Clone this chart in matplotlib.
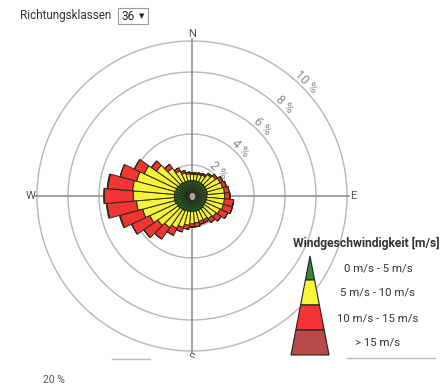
import numpy as np
import matplotlib
matplotlib.use("Agg")
import matplotlib.pyplot as plt
from matplotlib.patches import Polygon, Rectangle

plt.rcParams["font.family"] = ["Roboto", "DejaVu Sans"]

# Häufigkeiten in % je Richtungsklasse (36 Klassen à 10°, ab Nord im Uhrzeigersinn)
richtungen = np.arange(0, 360, 10)
v_0_5 = [1.00, 1.00, 1.00, 1.00, 1.00, 1.00, 1.00, 1.00, 1.00, 0.95, 0.95, 0.95,
         0.95, 0.95, 1.00, 1.00, 1.00, 1.00, 1.00, 1.00, 1.00, 1.05, 1.05, 1.10,
         1.10, 1.15, 1.15, 1.15, 1.15, 1.10, 1.10, 1.05, 1.05, 1.00, 1.00, 1.00]
v_5_10 = [0.40, 0.40, 0.45, 0.50, 0.70, 0.85, 1.00, 1.05, 1.10, 1.15, 1.15, 1.15,
          1.05, 0.95, 0.80, 0.70, 0.70, 0.75, 0.80, 0.90, 1.10, 1.25, 1.45, 1.60,
          1.90, 2.15, 2.45, 2.65, 2.70, 2.60, 2.30, 1.75, 1.15, 0.80, 0.55, 0.45]
v_10_15 = [0.10, 0.10, 0.10, 0.10, 0.10, 0.15, 0.20, 0.25, 0.30, 0.35, 0.60, 0.60,
           0.55, 0.40, 0.30, 0.20, 0.20, 0.25, 0.20, 0.25, 0.30, 0.50, 0.90, 1.10,
           1.30, 1.50, 1.90, 1.85, 1.60, 1.10, 0.70, 0.40, 0.30, 0.20, 0.15, 0.10]
v_15 = [0.00, 0.00, 0.00, 0.00, 0.00, 0.00, 0.00, 0.00, 0.00, 0.00, 0.00, 0.00,
        0.00, 0.00, 0.00, 0.00, 0.00, 0.00, 0.00, 0.00, 0.00, 0.00, 0.00, 0.00,
        0.00, 0.05, 0.05, 0.05, 0.05, 0.00, 0.00, 0.00, 0.00, 0.00, 0.00, 0.00]

klassen = [v_0_5, v_5_10, v_10_15, v_15]
farben = ["#2f8a34", "#f7f53a", "#f53535", "#b84a4a"]
labels = ["0 m/s - 5 m/s", "5 m/s - 10 m/s", "10 m/s - 15 m/s", "> 15 m/s"]
ringe = [2, 4, 6, 8, 10]

W, H = 448, 388
fig = plt.figure(figsize=(W / 100, H / 100), dpi=100)

# Polarachse: Mittelpunkt (192, 196) px, 15.5 px pro %
cx, cy, rmax = 192, 196, 10.3
rpx = 15.5 * rmax
ax = fig.add_axes([(cx - rpx) / W, (H - cy - rpx) / H, 2 * rpx / W, 2 * rpx / H],
                  projection="polar")
ax.set_theta_zero_location("N")
ax.set_theta_direction(-1)
ax.set_ylim(0, rmax)
ax.axis("off")

kreis = np.linspace(0, 2 * np.pi, 400)
for r in ringe:
    ax.plot(kreis, np.full_like(kreis, r), color="#b5b5b5", lw=1.0, zorder=1)
    ax.text(np.deg2rad(45), r + 0.38, f"{r} %", color="#8a8a8a", fontsize=9,
            rotation=-45, ha="center", va="center", zorder=1)

for winkel in [0, 90, 180, 270]:
    ax.plot([np.deg2rad(winkel)] * 2, [0, 10.12], color="#888888", lw=1.1, zorder=1)
for winkel, txt in zip([0, 90, 180, 270], ["N", "E", "S", "W"]):
    ax.text(np.deg2rad(winkel), 10.42, txt, color="#555555", fontsize=8,
            ha="center", va="center", zorder=1)

theta = np.deg2rad(richtungen)
breite = np.deg2rad(10)
unten = np.zeros(len(richtungen))
for i, (werte, farbe) in enumerate(zip(klassen, farben)):
    werte = np.array(werte)
    # innerste Klasse etwas dunkler, die Kanten laufen in der Mitte zusammen
    fuell = "#246b2a" if i == 0 else farbe
    ax.bar(theta, werte, width=breite, bottom=unten, color=fuell,
           edgecolor="#2b2b1a", linewidth=0.7, zorder=3)
    unten = unten + werte
ax.plot(0, 0, "s", color="#a0a0a0", ms=2.5, zorder=5)

# Overlay in Pixelkoordinaten für Bedienelemente und Legende
ov = fig.add_axes([0, 0, 1, 1])
ov.set_xlim(0, W)
ov.set_ylim(H, 0)
ov.axis("off")
ov.patch.set_alpha(0)

ov.text(20, 16, "Richtungsklassen", fontsize=8.5, color="#333333", va="center")
ov.add_patch(Rectangle((118, 8), 30, 16, facecolor="white", edgecolor="#9a9a9a", lw=0.8))
ov.text(122, 16, "36", fontsize=8.5, color="#222222", va="center")
ov.text(139, 16, "▼", fontsize=5, color="#222222", va="center",
        family=["DejaVu Sans"])

# Legende: Kegel mit vier Stufen
ov.text(366, 243, "Windgeschwindigkeit [m/s]", fontsize=8.7, fontweight="bold",
        color="#333333", ha="center", va="center")
spitze_x, spitze_y, fuss_y = 310, 256, 355
halb = 19
stufen = [256, 280, 305, 330, 355]
for i, farbe in enumerate(farben):
    y0, y1 = stufen[i], stufen[i + 1]
    w0 = halb * (y0 - spitze_y) / (fuss_y - spitze_y)
    w1 = halb * (y1 - spitze_y) / (fuss_y - spitze_y)
    ov.add_patch(Polygon([(spitze_x - w0, y0), (spitze_x + w0, y0),
                          (spitze_x + w1, y1), (spitze_x - w1, y1)],
                         closed=True, facecolor=farbe, edgecolor="#222222", lw=0.8))
for txt, y in zip(labels, [268, 293, 318, 343]):
    ov.text(378, y, txt, fontsize=8.2, color="#333333", ha="center", va="center")

# unterer Rand
ov.add_patch(Rectangle((0, 358), W, H - 358, facecolor="white", edgecolor="none", zorder=4))
ov.plot([112, 150], [359, 359], color="#bbbbbb", lw=1, zorder=5)
ov.plot([347, 435], [358, 358], color="#bbbbbb", lw=1, zorder=5)
ov.text(43, 380, "20 %", fontsize=7.5, color="#555555", va="center", zorder=5)

fig.savefig("out.png", dpi=100)
